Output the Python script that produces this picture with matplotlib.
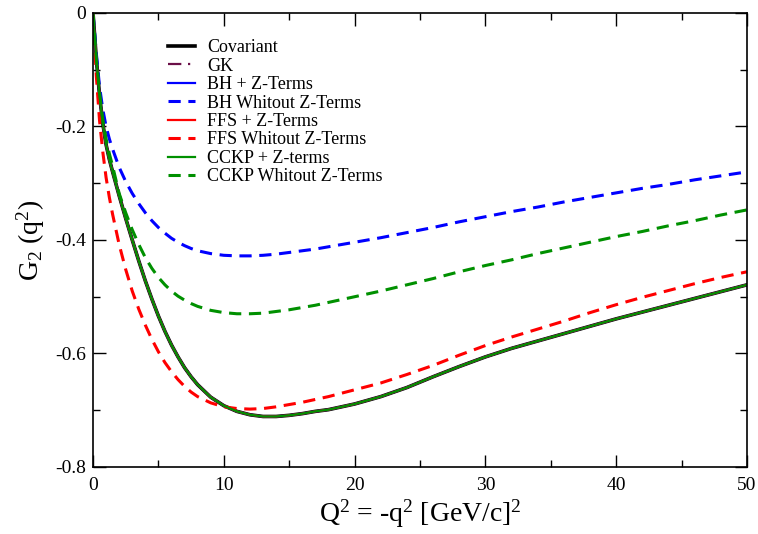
import matplotlib
matplotlib.use('Agg')
import matplotlib.pyplot as plt
from matplotlib.ticker import MultipleLocator

plt.rcParams['font.family'] = ['Liberation Serif', 'DejaVu Serif']
plt.rcParams['mathtext.fontset'] = 'custom'
plt.rcParams['mathtext.rm'] = 'Liberation Serif'
plt.rcParams['mathtext.it'] = 'Liberation Serif'
plt.rcParams['axes.unicode_minus'] = False

# Q^2 sample points (GeV/c)^2
q2 = [0, 0.25, 0.5, 0.75, 1, 1.25, 1.5, 2, 2.5, 3, 3.5, 4, 4.5, 5, 5.5, 6, 6.5,
      7, 7.5, 8, 9, 10, 11, 12, 13, 14, 15, 16, 17, 18, 19, 20, 22, 24, 26, 28,
      30, 32, 34, 36, 38, 40, 42, 44, 46, 48, 50]

# covariant result (the "+ Z-terms" curves and GK lie on top of it)
g_cov = [0, -0.08, -0.145, -0.195, -0.232, -0.258, -0.28, -0.322, -0.362, -0.40,
         -0.437, -0.472, -0.504, -0.534, -0.561, -0.585, -0.606, -0.625, -0.641,
         -0.655, -0.677, -0.692, -0.702, -0.708, -0.711, -0.711, -0.709, -0.706,
         -0.702, -0.699, -0.694, -0.689, -0.676, -0.660, -0.641, -0.623, -0.606,
         -0.591, -0.578, -0.565, -0.552, -0.539, -0.527, -0.515, -0.503, -0.491,
         -0.479]

g_bh_noz = [0, -0.07, -0.13, -0.17, -0.2, -0.222, -0.24, -0.272, -0.297, -0.318,
            -0.336, -0.352, -0.366, -0.378, -0.388, -0.397, -0.404, -0.41, -0.415,
            -0.419, -0.424, -0.427, -0.428, -0.428, -0.427, -0.425, -0.422, -0.419,
            -0.416, -0.412, -0.408, -0.404, -0.396, -0.387, -0.378, -0.368, -0.359,
            -0.350, -0.342, -0.333, -0.325, -0.317, -0.309, -0.302, -0.294, -0.287,
            -0.280]

g_ffs_noz = [0, -0.11, -0.19, -0.245, -0.29, -0.325, -0.355, -0.408, -0.452, -0.49,
             -0.522, -0.55, -0.575, -0.597, -0.616, -0.632, -0.646, -0.658, -0.668,
             -0.676, -0.687, -0.694, -0.697, -0.698, -0.697, -0.694, -0.690, -0.686,
             -0.681, -0.676, -0.670, -0.664, -0.652, -0.637, -0.621, -0.603, -0.586,
             -0.571, -0.557, -0.543, -0.528, -0.514, -0.501, -0.489, -0.477, -0.466,
             -0.456]

g_cckp_noz = [0, -0.08, -0.14, -0.188, -0.222, -0.248, -0.27, -0.318, -0.352, -0.382,
              -0.408, -0.431, -0.45, -0.466, -0.479, -0.49, -0.499, -0.506, -0.512,
              -0.517, -0.524, -0.528, -0.530, -0.530, -0.529, -0.526, -0.523, -0.519,
              -0.515, -0.510, -0.505, -0.500, -0.490, -0.479, -0.468, -0.456, -0.445,
              -0.435, -0.424, -0.414, -0.404, -0.394, -0.385, -0.375, -0.366, -0.356,
              -0.347]

fig = plt.figure(figsize=(7.58, 5.34), dpi=100)
ax = fig.add_axes([0.1227, 0.1255, 0.8628, 0.8502])

dash = (0, (4, 2.5))
ax.plot(q2, g_cov, color='black', lw=2.6, label='Covariant')
ax.plot(q2, g_cov, color='#6b0f48', lw=1.6, ls=(0, (6, 3, 1, 3)), label='GK')
ax.plot(q2, g_cov, color='#0000ff', lw=1.6, label='BH + Z-Terms')
ax.plot(q2, g_bh_noz, color='#0000ff', lw=2.2, ls=dash, label='BH Whitout Z-Terms')
ax.plot(q2, g_cov, color='#ff0000', lw=1.6, label='FFS + Z-Terms')
ax.plot(q2, g_ffs_noz, color='#ff0000', lw=2.2, ls=dash, label='FFS Whitout Z-Terms')
ax.plot(q2, g_cov, color='#009000', lw=1.6, label='CCKP + Z-terms')
ax.plot(q2, g_cckp_noz, color='#009000', lw=2.2, ls=dash, label='CCKP Whitout Z-Terms')

ax.set_xlim(0, 50)
ax.set_ylim(-0.8, 0)
ax.xaxis.set_major_locator(MultipleLocator(10))
ax.xaxis.set_minor_locator(MultipleLocator(5))
ax.yaxis.set_minor_locator(MultipleLocator(0.1))
ax.set_yticks([0, -0.2, -0.4, -0.6, -0.8])
ax.set_yticklabels(['0', '-0.2', '-0.4', '-0.6', '-0.8'])
ax.tick_params(which='both', direction='in', top=True, right=True, labelsize=14, width=1)
ax.tick_params(which='major', length=9)
ax.tick_params(which='minor', length=5)
ax.tick_params(axis='x', pad=7)
ax.tick_params(axis='y', pad=5)
for s in ax.spines.values():
    s.set_linewidth(1.2)

ax.set_xlabel('Q$^2$ = -q$^2$ [GeV/c]$^2$', fontsize=20, labelpad=3)
ax.set_ylabel('G$_2$ (q$^2$)', fontsize=20, labelpad=6)

ax.legend(loc='upper left', bbox_to_anchor=(0.09, 0.978), frameon=False,
          fontsize=13, handlelength=1.5, handletextpad=0.65, labelspacing=0.08)

fig.savefig('out.png', dpi=100)
